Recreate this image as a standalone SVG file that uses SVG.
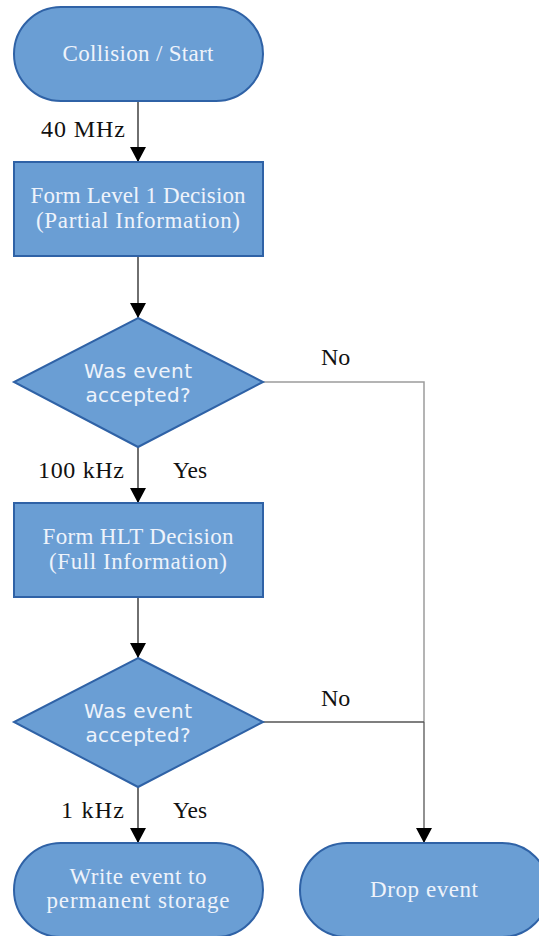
<svg xmlns="http://www.w3.org/2000/svg" width="539" height="936" viewBox="0 0 539 936">
  <style>
    .shape { fill: #6a9ed4; stroke: #2f62a6; stroke-width: 2; }
    .serif { font-family: "Liberation Serif", "DejaVu Serif", serif; font-size: 23px; }
    .sans { font-family: "DejaVu Sans", "Open Sans", sans-serif; font-size: 20px; }
    .inner { fill: #eef3fb; text-anchor: middle; }
    .label { fill: #111111; font-family: "Liberation Serif", "DejaVu Serif", serif; font-size: 24px; }
    .flow { fill: none; stroke: #222222; stroke-width: 1.3; }
    .flow-light { fill: none; stroke: #9c9c9c; stroke-width: 1.5; }
    .flow-mid { fill: none; stroke: #555555; stroke-width: 1.3; }
  </style>
  <defs>
    <marker id="arrow" markerUnits="userSpaceOnUse" markerWidth="16" markerHeight="22" refX="15" refY="8" orient="auto">
      <path d="M0,0 L15,8 L0,16 Z" fill="#000000"/>
    </marker>
  </defs>
  <rect width="539" height="936" fill="#ffffff"/>

  <g id="connectors">
    <path class="flow" d="M138,101 V162" marker-end="url(#arrow)"/>
    <path class="flow" d="M138,256 V318" marker-end="url(#arrow)"/>
    <path class="flow" d="M138,447 V503" marker-end="url(#arrow)"/>
    <path class="flow" d="M138,597 V658" marker-end="url(#arrow)"/>
    <path class="flow" d="M138,787 V843" marker-end="url(#arrow)"/>
    <path class="flow-light" d="M263,382 H424 V722"/>
    <path class="flow-mid" d="M263,722 H424"/>
    <path class="flow-mid" d="M424,722 V843" marker-end="url(#arrow)"/>
    <text class="label" x="41" y="137" textLength="84">40 MHz</text>
    <text class="label" x="321" y="365">No</text>
    <text class="label" x="38" y="478" textLength="86">100 kHz</text>
    <text class="label" x="173" y="478" textLength="34" lengthAdjust="spacingAndGlyphs">Yes</text>
    <text class="label" x="321" y="706">No</text>
    <text class="label" x="61" y="818" textLength="63">1 kHz</text>
    <text class="label" x="173" y="818" textLength="34" lengthAdjust="spacingAndGlyphs">Yes</text>
  </g>

  <g id="start">
    <rect class="shape" x="14" y="7" width="249" height="94" rx="47" ry="47"/>
    <text class="serif inner" x="138" y="61" textLength="151">Collision / Start</text>
  </g>

  <g id="level1">
    <rect class="shape" x="14" y="162" width="249" height="94"/>
    <text class="serif inner" x="138" y="203" textLength="215">Form Level 1 Decision</text>
    <text class="serif inner" x="138" y="228" textLength="204">(Partial Information)</text>
  </g>

  <g id="check1">
    <polygon class="shape" points="138,318 263,382 138,447 14,382"/>
    <text class="sans inner" x="138" y="378" textLength="108">Was event</text>
    <text class="sans inner" x="138" y="402" textLength="105">accepted?</text>
  </g>

  <g id="hlt">
    <rect class="shape" x="14" y="503" width="249" height="94"/>
    <text class="serif inner" x="138" y="544" textLength="191">Form HLT Decision</text>
    <text class="serif inner" x="138" y="569" textLength="178">(Full Information)</text>
  </g>

  <g id="check2">
    <polygon class="shape" points="138,658 263,722 138,787 14,722"/>
    <text class="sans inner" x="138" y="718" textLength="108">Was event</text>
    <text class="sans inner" x="138" y="742" textLength="105">accepted?</text>
  </g>

  <g id="store">
    <rect class="shape" x="14" y="843" width="249" height="94" rx="47" ry="47"/>
    <text class="serif inner" x="138" y="884" textLength="137">Write event to</text>
    <text class="serif inner" x="138" y="908" textLength="183">permanent storage</text>
  </g>

  <g id="drop">
    <rect class="shape" x="300" y="843" width="249" height="94" rx="47" ry="47"/>
    <text class="serif inner" x="424" y="897" textLength="108">Drop event</text>
  </g>
</svg>
